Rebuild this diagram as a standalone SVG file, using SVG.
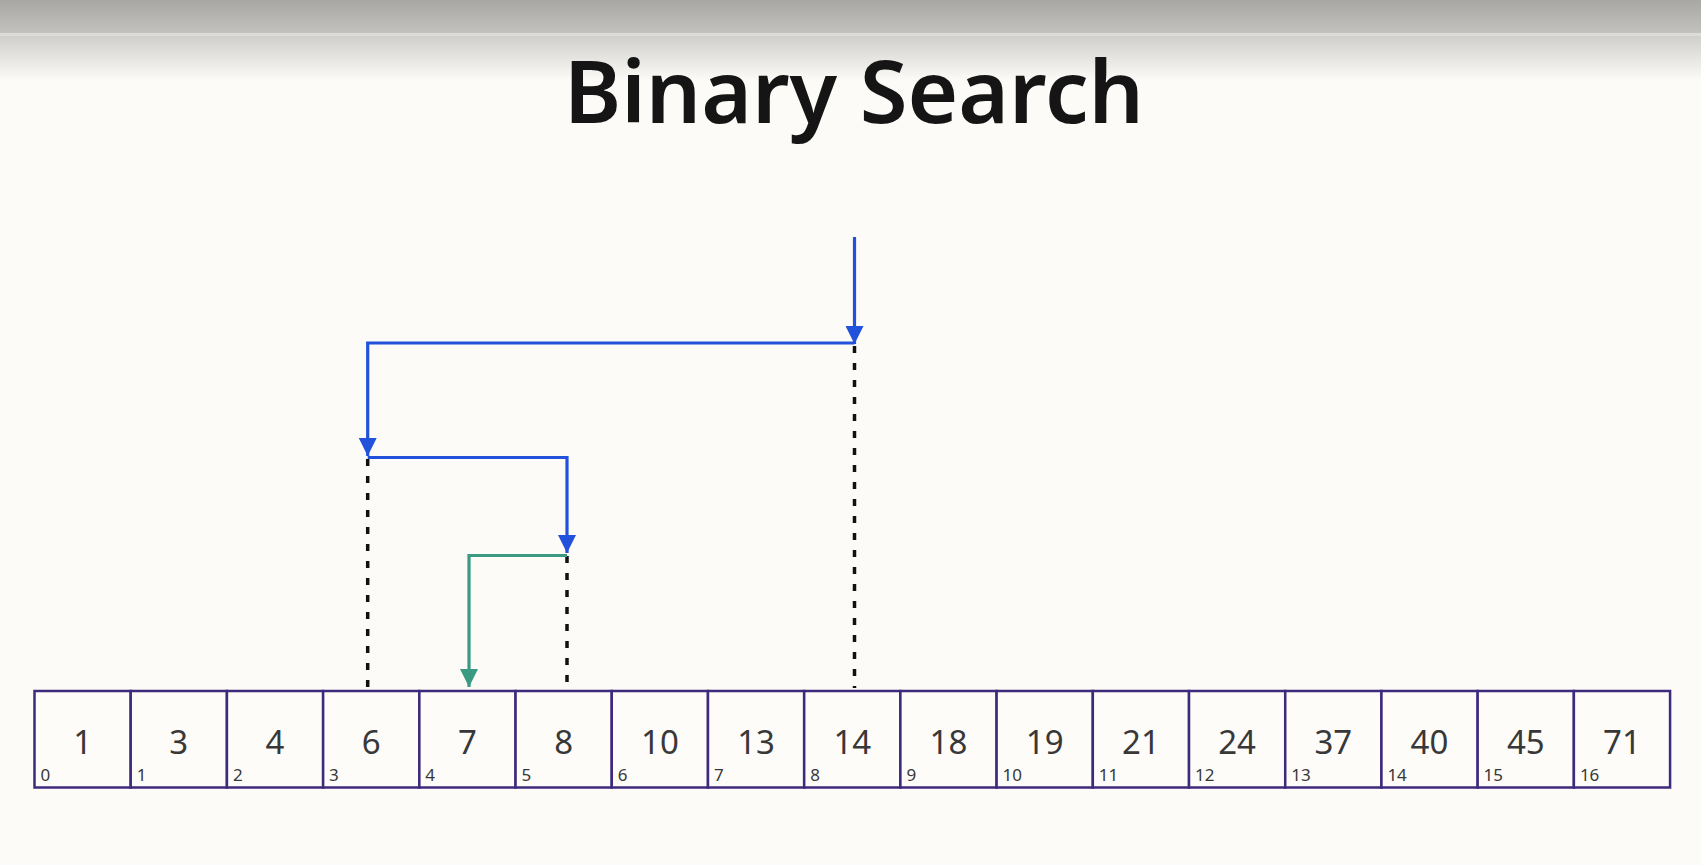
<svg xmlns="http://www.w3.org/2000/svg" width="1701" height="865" viewBox="0 0 1701 865">
<defs>
<linearGradient id="topbar" x1="0" y1="0" x2="0" y2="1">
<stop offset="0" stop-color="#a8a7a3"/>
<stop offset="1" stop-color="#c2c1bd"/>
</linearGradient>
<linearGradient id="fade" x1="0" y1="0" x2="0" y2="1">
<stop offset="0" stop-color="#cfcecb"/>
<stop offset="1" stop-color="#fcfbf7"/>
</linearGradient>
<marker id="ab" viewBox="0 0 18 18" refX="9" refY="18" markerWidth="18" markerHeight="18" markerUnits="userSpaceOnUse" orient="0">
<path d="M0,0 L18,0 L9,18 Z" fill="#2251dc"/>
</marker>
<marker id="ag" viewBox="0 0 18 18" refX="9" refY="18" markerWidth="18" markerHeight="18" markerUnits="userSpaceOnUse" orient="0">
<path d="M0,0 L18,0 L9,18 Z" fill="#3a9a82"/>
</marker>
</defs>
<style>
.cell{fill:#fdfcf9;stroke:#3e2a7c;stroke-width:2.5}
.num{font-family:"Noto Sans","Open Sans",sans-serif;font-size:33px;fill:#383838;text-anchor:middle}
.idx{font-family:"Noto Sans","Open Sans",sans-serif;font-size:17px;fill:#383838}
.blue{fill:none;stroke:#2251dc;stroke-width:3.2}
.green{fill:none;stroke:#3a9a82;stroke-width:3.2}
.dash{fill:none;stroke:#111;stroke-width:3.5;stroke-dasharray:7 10}
</style>
<rect width="1701" height="865" fill="#fcfbf7"/>
<rect width="1701" height="33" fill="url(#topbar)"/>
<rect y="33" width="1701" height="2.5" fill="#dddcd9"/>
<rect y="35.5" width="1701" height="45" fill="url(#fade)"/>
<text x="854" y="123" font-family="'Noto Sans','Open Sans',sans-serif" font-size="86" font-weight="600" fill="#151515" text-anchor="middle" textLength="580" lengthAdjust="spacingAndGlyphs">Binary Search</text>

<g id="connectors">
<path class="dash" d="M854.5,346 V688"/>
<path class="dash" d="M367.7,459 V688"/>
<path class="dash" d="M567,556 V688"/>
<path class="blue" d="M854.5,237 V344" marker-end="url(#ab)"/>
<path class="blue" d="M854.5,343 H367.7 V456" marker-end="url(#ab)"/>
<path class="blue" d="M367.7,457.5 H567 V553" marker-end="url(#ab)"/>
<path class="green" d="M567,555.5 H469 V687" marker-end="url(#ag)"/>
</g>

<g id="cell0"><rect class="cell" x="34.5" y="691" width="96.21" height="96.5"/><text class="num" x="82.6" y="754">1</text><text class="idx" x="40.5" y="781">0</text></g>
<g id="cell1"><rect class="cell" x="130.71" y="691" width="96.21" height="96.5"/><text class="num" x="178.8" y="754">3</text><text class="idx" x="136.7" y="781">1</text></g>
<g id="cell2"><rect class="cell" x="226.92" y="691" width="96.21" height="96.5"/><text class="num" x="275.0" y="754">4</text><text class="idx" x="232.9" y="781">2</text></g>
<g id="cell3"><rect class="cell" x="323.13" y="691" width="96.21" height="96.5"/><text class="num" x="371.2" y="754">6</text><text class="idx" x="329.1" y="781">3</text></g>
<g id="cell4"><rect class="cell" x="419.34" y="691" width="96.21" height="96.5"/><text class="num" x="467.4" y="754">7</text><text class="idx" x="425.3" y="781">4</text></g>
<g id="cell5"><rect class="cell" x="515.55" y="691" width="96.21" height="96.5"/><text class="num" x="563.7" y="754">8</text><text class="idx" x="521.6" y="781">5</text></g>
<g id="cell6"><rect class="cell" x="611.76" y="691" width="96.21" height="96.5"/><text class="num" x="659.9" y="754">10</text><text class="idx" x="617.8" y="781">6</text></g>
<g id="cell7"><rect class="cell" x="707.97" y="691" width="96.21" height="96.5"/><text class="num" x="756.1" y="754">13</text><text class="idx" x="714.0" y="781">7</text></g>
<g id="cell8"><rect class="cell" x="804.18" y="691" width="96.21" height="96.5"/><text class="num" x="852.3" y="754">14</text><text class="idx" x="810.2" y="781">8</text></g>
<g id="cell9"><rect class="cell" x="900.39" y="691" width="96.21" height="96.5"/><text class="num" x="948.5" y="754">18</text><text class="idx" x="906.4" y="781">9</text></g>
<g id="cell10"><rect class="cell" x="996.6" y="691" width="96.21" height="96.5"/><text class="num" x="1044.7" y="754">19</text><text class="idx" x="1002.6" y="781">10</text></g>
<g id="cell11"><rect class="cell" x="1092.81" y="691" width="96.21" height="96.5"/><text class="num" x="1140.9" y="754">21</text><text class="idx" x="1098.8" y="781">11</text></g>
<g id="cell12"><rect class="cell" x="1189.02" y="691" width="96.21" height="96.5"/><text class="num" x="1237.1" y="754">24</text><text class="idx" x="1195.0" y="781">12</text></g>
<g id="cell13"><rect class="cell" x="1285.23" y="691" width="96.21" height="96.5"/><text class="num" x="1333.3" y="754">37</text><text class="idx" x="1291.2" y="781">13</text></g>
<g id="cell14"><rect class="cell" x="1381.44" y="691" width="96.21" height="96.5"/><text class="num" x="1429.5" y="754">40</text><text class="idx" x="1387.4" y="781">14</text></g>
<g id="cell15"><rect class="cell" x="1477.65" y="691" width="96.21" height="96.5"/><text class="num" x="1525.8" y="754">45</text><text class="idx" x="1483.6" y="781">15</text></g>
<g id="cell16"><rect class="cell" x="1573.86" y="691" width="96.21" height="96.5"/><text class="num" x="1622.0" y="754">71</text><text class="idx" x="1579.9" y="781">16</text></g>
</svg>
